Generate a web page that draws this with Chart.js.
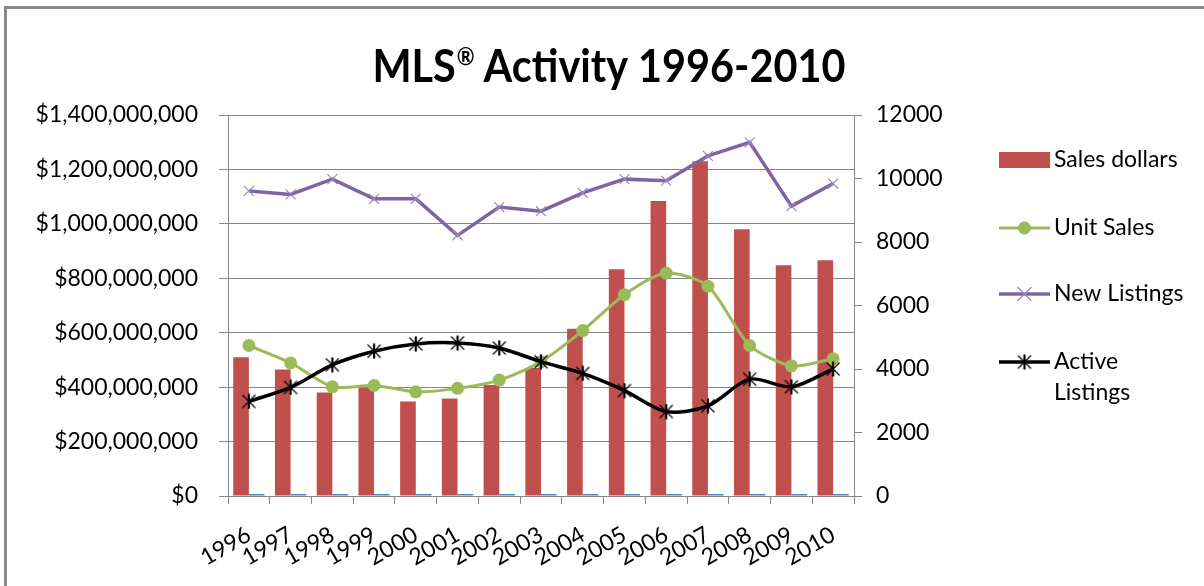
<!DOCTYPE html>
<html><head><meta charset="utf-8">
<script src="https://cdn.jsdelivr.net/npm/chart.js@4"></script>
<style>html,body{margin:0;padding:0;background:#fff;}#wrap{position:relative;width:1204px;height:586px;}</style>
</head><body><div id="wrap"><canvas id="c" width="1204" height="586"></canvas></div>
<script>
const years = ['1996','1997','1998','1999','2000','2001','2002','2003','2004','2005','2006','2007','2008','2009','2010'];
const salesDollars = [510000000, 465000000, 380000000, 398000000, 347000000, 358000000, 408000000, 470000000, 615000000, 833000000, 1084000000, 1230000000, 980000000, 848000000, 866000000];
const yearSeries = [1996, 1997, 1998, 1999, 2000, 2001, 2002, 2003, 2004, 2005, 2006, 2007, 2008, 2009, 2010];
const unitSales = [4740, 4190, 3440, 3480, 3280, 3390, 3650, 4230, 5210, 6340, 7020, 6610, 4740, 4100, 4320];
const newListings = [9610, 9500, 9980, 9360, 9360, 8210, 9100, 8970, 9550, 9980, 9930, 10710, 11140, 9130, 9840];
const activeListings = [2980, 3420, 4130, 4560, 4790, 4820, 4660, 4230, 3860, 3320, 2660, 2840, 3680, 3440, 4000];
const leftTickLabels = ['$0', '$200,000,000', '$400,000,000', '$600,000,000', '$800,000,000', '$1,000,000,000', '$1,200,000,000', '$1,400,000,000'];
const rightTickLabels = ['0', '2000', '4000', '6000', '8000', '10000', '12000'];
const titleParts = ['MLS', '\u00AE', ' Activity 1996-2010'];

const FONT = 'Lato';
const GRAY = '#868686';

function makeStar(color) {
  const c = document.createElement('canvas');
  c.width = 16; c.height = 16;
  const g = c.getContext('2d');
  g.strokeStyle = color;
  g.lineWidth = 1.2;
  g.beginPath();
  g.moveTo(1.5, 1.5); g.lineTo(14.5, 14.5);
  g.moveTo(14.5, 1.5); g.lineTo(1.5, 14.5);
  g.stroke();
  g.lineWidth = 2.2;
  g.beginPath();
  g.moveTo(8, 0.5); g.lineTo(8, 15.5);
  g.stroke();
  return c;
}
const starImg = makeStar('#000');

const framePlugin = {
  id: 'frameLegend',
  beforeDraw(chart) {
    const ctx = chart.ctx;
    ctx.save();
    ctx.strokeStyle = '#8a8a8a';
    ctx.lineWidth = 3;
    ctx.beginPath();
    ctx.moveTo(5.5, 586); ctx.lineTo(5.5, 7.5); ctx.lineTo(1204, 7.5);
    ctx.stroke();
    ctx.restore();
  },
  afterDraw(chart) {
    const ctx = chart.ctx;
    // title with superscript registered mark
    ctx.save();
    const big = 'bold 46px ' + FONT, small = 'bold 24px ' + FONT;
    ctx.font = big; const w0 = ctx.measureText(titleParts[0]).width; const w2 = ctx.measureText(titleParts[2]).width;
    ctx.font = small; const w1 = ctx.measureText(titleParts[1]).width;
    const sx = 0.9;
    const total = (w0 + w1 + w2) * sx;
    ctx.translate(609 - total / 2, 82);
    ctx.scale(sx, 1);
    ctx.fillStyle = '#000';
    ctx.textBaseline = 'alphabetic';
    ctx.textAlign = 'left';
    ctx.font = big; ctx.fillText(titleParts[0], 0, 0);
    ctx.font = small; ctx.fillText(titleParts[1], w0 + 1, -17);
    ctx.font = big; ctx.fillText(titleParts[2], w0 + w1, 0);
    ctx.restore();

    // legend
    const ds = chart.data.datasets.filter(d => d.showInLegend !== false);
    const rows = [160, 228, 294, 362];
    const x0 = 999, w = 51, tx = 1054;
    ctx.save();
    ctx.font = '23px ' + FONT;
    ctx.textBaseline = 'middle';
    ctx.textAlign = 'left';
    ds.forEach((d, i) => {
      const y = rows[i];
      if (d.type === 'bar') {
        ctx.fillStyle = d.backgroundColor;
        ctx.fillRect(x0, y - 8, w, 16);
      } else {
        ctx.strokeStyle = d.borderColor;
        ctx.lineWidth = d.borderWidth;
        ctx.beginPath(); ctx.moveTo(x0, y); ctx.lineTo(x0 + w, y); ctx.stroke();
        const cx = x0 + w / 2;
        if (d.pointStyle === 'circle') {
          ctx.fillStyle = d.pointBackgroundColor;
          ctx.beginPath(); ctx.arc(cx, y, d.pointRadius, 0, Math.PI * 2); ctx.fill();
        } else if (d.pointStyle === 'crossRot') {
          ctx.strokeStyle = d.pointBorderColor; ctx.lineWidth = d.pointBorderWidth;
          const r = d.pointRadius;
          ctx.beginPath(); ctx.moveTo(cx - r, y - r); ctx.lineTo(cx + r, y + r);
          ctx.moveTo(cx + r, y - r); ctx.lineTo(cx - r, y + r); ctx.stroke();
        } else {
          ctx.drawImage(starImg, cx - 8, y - 8);
        }
      }
      ctx.fillStyle = '#000';
      const words = d.label.split(' ');
      const lines = [];
      let cur = '';
      words.forEach(wd => {
        const t = cur ? cur + ' ' + wd : wd;
        if (ctx.measureText(t).width > 140 && cur) { lines.push(cur); cur = wd; } else cur = t;
      });
      lines.push(cur);
      lines.forEach((ln, k) => ctx.fillText(ln, tx, y + k * 31));
    });
    ctx.restore();
  }
};

const tickFont = { family: FONT, size: 23 };

new Chart(document.getElementById('c'), {
  type: 'bar',
  data: {
    labels: years,
    datasets: [
      { type: 'bar', label: 'Sales dollars', data: salesDollars, backgroundColor: '#C0504D', yAxisID: 'y', order: 4, categoryPercentage: 0.75, barPercentage: 1 },
      { type: 'bar', label: 'Year', data: yearSeries, backgroundColor: '#4F81BD', yAxisID: 'y', order: 5, categoryPercentage: 0.75, barPercentage: 1, minBarLength: 2, showInLegend: false },
      { type: 'line', label: 'Unit Sales', data: unitSales, yAxisID: 'y1', order: 3, borderColor: '#9BBB59', borderWidth: 3, tension: 0.25, pointStyle: 'circle', pointRadius: 6.5, pointBackgroundColor: '#9BBB59', pointBorderColor: '#9BBB59', pointBorderWidth: 0 },
      { type: 'line', label: 'New Listings', data: newListings, yAxisID: 'y1', order: 2, borderColor: '#8064A2', borderWidth: 3.5, tension: 0, pointStyle: 'crossRot', pointRadius: 7, pointBorderColor: '#9C88BC', pointBorderWidth: 1.2 },
      { type: 'line', label: 'Active Listings', data: activeListings, yAxisID: 'y1', order: 1, borderColor: '#000000', borderWidth: 3.5, tension: 0.3, pointStyle: starImg, pointRadius: 8 }
    ]
  },
  options: {
    responsive: false,
    animation: false,
    devicePixelRatio: 1,
    layout: { padding: { left: 0, right: 0, top: 115, bottom: 0 } },
    plugins: {
      legend: { display: false },
      tooltip: { enabled: false },
      title: { display: false }
    },
    scales: {
      x: {
        grid: { offset: true, drawOnChartArea: false, drawTicks: true, tickLength: 8, color: GRAY },
        border: { color: GRAY, width: 1 },
        ticks: { color: '#000', font: tickFont, minRotation: 30, maxRotation: 30, autoSkip: false, padding: 17 },
        afterFit(s) { s.height = 90; }
      },
      y: {
        position: 'left', min: 0, max: 1400000000,
        ticks: { stepSize: 200000000, color: '#000', font: tickFont, padding: 21, callback: (v, i) => leftTickLabels[i] },
        grid: { color: GRAY, tickLength: 9, lineWidth: 1 },
        border: { color: GRAY, width: 1 },
        afterFit(s) { s.width = 228; }
      },
      y1: {
        position: 'right', min: 0, max: 12000,
        ticks: { stepSize: 2000, color: '#000', font: tickFont, padding: 14, callback: (v, i) => rightTickLabels[i] },
        grid: { drawOnChartArea: false, color: GRAY, tickLength: 8 },
        border: { color: GRAY, width: 1 },
        afterFit(s) { s.width = 350; }
      }
    }
  },
  plugins: [framePlugin]
});
</script></body></html>
